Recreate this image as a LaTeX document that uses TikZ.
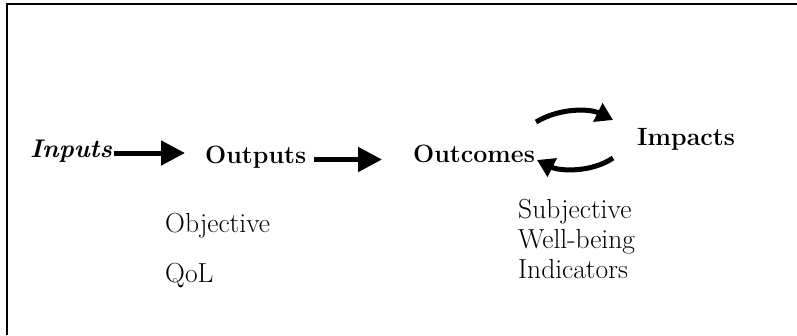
\documentclass[tikz,border=0pt]{standalone}
\usepackage{fontspec}
\usetikzlibrary{arrows.meta,calc}
\tikzset{
  lbl/.style={inner sep=0pt, anchor=base west},
  regtext/.style={lbl, font=\fontsize{27.5}{30}\selectfont},
  boldtext/.style={lbl, font=\fontsize{25}{28}\selectfont\bfseries},
  bigarrow/.style={line width=5pt, -{Triangle[length=24pt 0,width=24pt 0]}},
  curvarrow/.style={line width=5pt, -{Triangle[length=17pt 0,width=20pt 0]}},
  frame/.style={line width=2.2pt, black}
}
\begin{document}
\begin{tikzpicture}[x=1pt,y=-1pt]
\useasboundingbox (0,0) rectangle (797,335);
\draw[frame] (7,335) -- (7,4) -- (797,4);

\node[boldtext, font=\fontsize{25.5}{28}\selectfont\bfseries\itshape] (inputs) at (30,157) {Inputs};
\node[boldtext] (outputs) at (205,163) {Outputs};
\node[boldtext] (outcomes) at (413,162) {Outcomes};
\node[boldtext] (impacts) at (637,145) {Impacts};

\node[regtext] (objective) at (165,232) {Objective};
\node[regtext] (qol) at (165,282) {QoL};
\node[regtext] (subjective) at (518,218) {Subjective};
\node[regtext] (wellbeing) at (518,248) {Well-being};
\node[regtext] (indicators) at (518,278) {Indicators};

\draw[bigarrow] ([shift={(2pt,4pt)}]inputs.base east) -- ([shift={(-20pt,10pt)}]outputs.base west);
\draw[bigarrow] ([shift={(8pt,3.5pt)}]outputs.base east) -- ([shift={(-31pt,2.5pt)}]outcomes.base west);

\draw[curvarrow] ([shift={(1pt,40pt)}]outcomes.base east)
  .. controls +(25pt,15pt) and +(-22pt,11pt) .. ([shift={(-24pt,25pt)}]impacts.base west);
\draw[curvarrow] ([shift={(-24pt,-13pt)}]impacts.base west)
  .. controls +(-22pt,-15pt) and +(22pt,-11pt) .. ([shift={(2pt,2pt)}]outcomes.base east);
\end{tikzpicture}
\end{document}
